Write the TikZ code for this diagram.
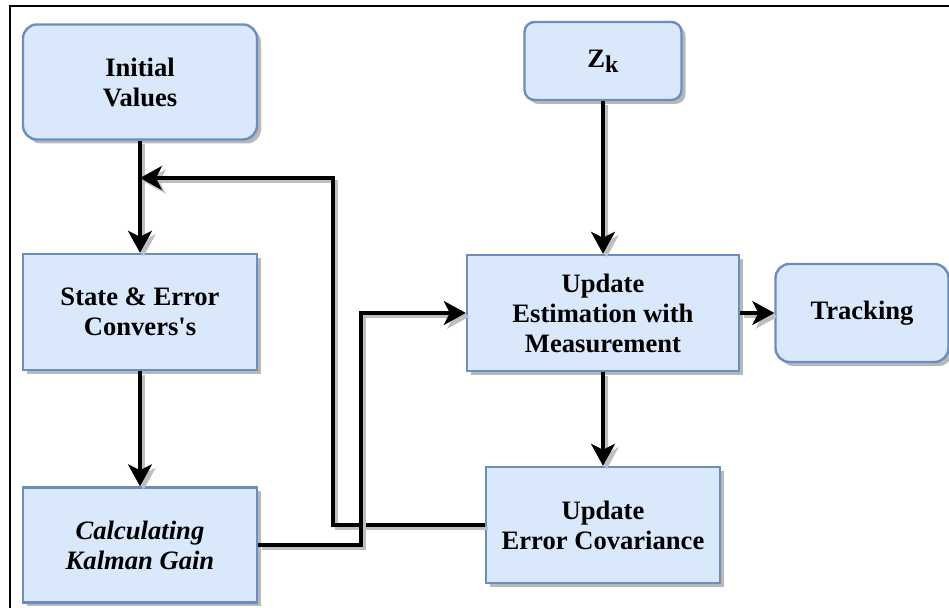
\documentclass[tikz,border=0pt]{standalone}
\usepackage{fontspec}
\setmainfont{Liberation Serif}
\usetikzlibrary{arrows.meta,shadows}

\definecolor{boxfill}{HTML}{DAE8FC}
\definecolor{boxline}{HTML}{6C8EBF}

\tikzset{
    block/.style={draw=boxline, fill=boxfill, line width=1.2pt, align=center,
        font=\bfseries\fontsize{13.3}{15}\selectfont,
        drop shadow={shadow xshift=2pt, shadow yshift=-2pt, fill=black!28, opacity=1}},
    roundblock/.style={block, rounded corners=7pt},
    flow/.style={line width=1.6pt, -{Stealth[length=11pt,width=12pt,inset=3pt]},
        preaction={draw=black!25, line width=1.6pt,
            transform canvas={shift={(1.8pt,-1.8pt)}}}},
}

\begin{document}
\begin{tikzpicture}[x=0.5pt,y=-0.5pt]
    \useasboundingbox (0,0) rectangle (949,608);
    \draw[line width=1pt] (10,610) -- (10,6) -- (951,6);

    \node[roundblock, minimum width=117pt, minimum height=57.5pt] (init) at (140,82) {Initial\\Values};
    \node[block, minimum width=117pt, minimum height=58pt] (state) at (140,312) {State \& Error\\Convers\textquotesingle s};
    \node[block, minimum width=117pt, minimum height=57.5pt, font=\bfseries\itshape\fontsize{13.3}{15}\selectfont] (gain) at (140,545) {Calculating\\Kalman Gain};
    \node[roundblock, rounded corners=5pt, minimum width=78.5pt, minimum height=39pt] (zk) at (603,61) {Z\raisebox{-2.5pt}{\fontsize{12}{12}\selectfont k}};
    \node[block, minimum width=136pt, minimum height=58pt] (est) at (603,313) {Update\\Estimation with\\Measurement};
    \node[roundblock, minimum width=86.5pt, minimum height=49pt] (track) at (862,313) {Tracking};
    \node[block, minimum width=117pt, minimum height=58pt] (cov) at (603,525) {Update\\Error Covariance};

    \coordinate (back) at (140,178);
    \coordinate (backturn) at (333,178);
    \coordinate (gainturn) at (361,313);

    \draw[flow] (init) -- (state);
    \draw[flow] (state) -- (gain);
    \draw[flow] (zk) -- (est);
    \draw[flow] (est) -- (track);
    \draw[flow] (est) -- (cov);
    \draw[flow] (cov.west) -| (backturn) -- (back);
    \draw[flow] (gain.east) -| (gainturn) -- (est.west);

\end{tikzpicture}
\end{document}
